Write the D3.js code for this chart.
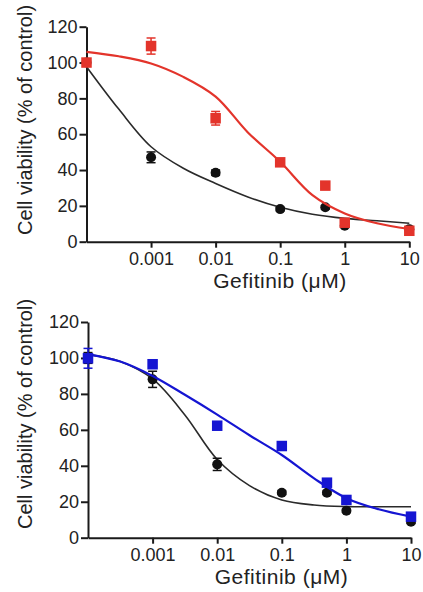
<!DOCTYPE html>
<html><head><meta charset="utf-8">
<script src="https://cdn.jsdelivr.net/npm/d3@7"></script>
<style>body{margin:0;background:#fff}svg{display:block}</style>
</head><body>
<script>
// ---- data ----
const doses = [0.0001, 0.001, 0.01, 0.1, 0.5, 1, 10];
const xTickValues = [0.001, 0.01, 0.1, 1, 10];
const xTickLabels = ["0.001", "0.01", "0.1", "1", "10"];
const yTickValues = [0, 20, 40, 60, 80, 100, 120];

// top panel
const topBlack = [100, 47.1, 38.5, 18.2, 19.2, 8.9, 7];
const topBlackErr = [1.5, 3, 1.5, 1, 1, 1, 1];
const topRed = [100, 109.2, 68.9, 44.3, 31.3, 10.6, 6.1];
const topRedErr = [2, 4.5, 3.8, 1.5, 1.5, 1.5, 1];
// fitted curves sampled at half-decades
const curveDoses = [0.0001, 0.000316, 0.001, 0.00316, 0.01, 0.0316, 0.1, 0.316, 1, 3.16, 10];
const topBlackFit = [97.7, 74, 53, 41, 32.5, 25, 19.2, 15.3, 13, 11.7, 10.3];
const topRedFit = [106, 103.5, 99.5, 92, 81, 61, 44.6, 26, 15.8, 10.3, 7.1];

// bottom panel
const botBlack = [100, 88.1, 40.8, 25, 25, 15, 8.9];
const botBlackErr = [3, 4.5, 3.4, 1, 1, 1, 1];
const botBlue = [99.8, 96.5, 62.3, 51, 30.6, 21, 11.7];
const botBlueErr = [5.5, 1.5, 1.5, 1.5, 1.5, 1.5, 1.5];
const botBlackFit = [102, 98, 88.3, 68.3, 43.5, 29, 21, 18.2, 17.3, 17.2, 17.2];
const botBlueFit = [102, 98, 90, 79.5, 68.5, 57, 46, 33, 22, 15.8, 11.7];

const W = 423, H = 592;
const svg = d3.select("body").append("svg").attr("width", W).attr("height", H);
const FONT = "'Liberation Sans', Arial, Helvetica, sans-serif";
const RED = "#e3342b", BLUE = "#1515d2", BLACK = "#111", CURVE_BLACK = "#2a2a2a";

function panel(cfg) {
  const g = svg.append("g");
  const x = d3.scaleLog().domain([0.0001, 10]).range([cfg.left, cfg.right]);
  const y = d3.scaleLinear().domain([0, 120]).range([cfg.bottom, cfg.top]);

  const xa = g.append("g").attr("transform", `translate(0,${cfg.bottom})`)
    .call(d3.axisBottom(x).tickValues(xTickValues).tickFormat((d, i) => xTickLabels[i]).tickSize(6).tickPadding(4.5).tickSizeOuter(0));
  const ya = g.append("g").attr("transform", `translate(${cfg.left},0)`)
    .call(d3.axisLeft(y).tickValues(yTickValues).tickSize(7).tickPadding(2).tickSizeOuter(0));
  [xa, ya].forEach(a => {
    a.select(".domain").attr("stroke", "#1a1a1a").attr("stroke-width", 2);
    a.selectAll(".tick line").attr("stroke", "#1a1a1a").attr("stroke-width", 2);
    a.selectAll(".tick text").attr("font-family", FONT).attr("font-size", 18).attr("fill", "#222");
  });

  g.append("text").attr("x", (cfg.left + cfg.right) / 2 + 32).attr("y", cfg.bottom + 46.3)
    .attr("text-anchor", "middle").attr("font-family", FONT).attr("font-size", 21)
    .attr("letter-spacing", 0.5).attr("fill", "#222")
    .text("Gefitinib (μM)");
  g.append("text").attr("transform", `translate(32,${cfg.labelY}) rotate(-90)`)
    .attr("text-anchor", "middle").attr("font-family", FONT).attr("font-size", 20).attr("fill", "#222")
    .text("Cell viability (% of control)");

  const line = d3.line().x((d, i) => x(curveDoses[i])).y(d => y(d)).curve(d3.curveCatmullRom.alpha(0.5));

  function series(vals, errs, fit, color, curveColor, shape, lw) {
    g.append("path").datum(fit).attr("d", line).attr("fill", "none")
      .attr("stroke", curveColor).attr("stroke-width", lw);
    const s = g.append("g");
    vals.forEach((v, i) => {
      const cx = x(doses[i]), cy = y(v);
      const e = errs[i];
      const y1 = y(v + e), y2 = y(v - e);
      s.append("line").attr("x1", cx).attr("x2", cx).attr("y1", y1).attr("y2", y2).attr("stroke", color).attr("stroke-width", 1.5);
      [y1, y2].forEach(yy => s.append("line").attr("x1", cx - 4.5).attr("x2", cx + 4.5).attr("y1", yy).attr("y2", yy).attr("stroke", color).attr("stroke-width", 1.5));
      if (shape === "circle") {
        s.append("circle").attr("cx", cx).attr("cy", cy).attr("r", 5).attr("fill", color);
      } else {
        s.append("rect").attr("x", cx - 5.25).attr("y", cy - 5.25).attr("width", 10.5).attr("height", 10.5).attr("fill", color);
      }
    });
  }
  cfg.series.forEach(sr => series(...sr));
}

panel({
  left: 86.5, right: 409.3, top: 26.7, bottom: 241.7, labelY: 120,
  series: [
    [topBlack, topBlackErr, topBlackFit, BLACK, CURVE_BLACK, "circle", 1.6],
    [topRed, topRedErr, topRedFit, RED, RED, "square", 2.2]
  ]
});
panel({
  left: 88, right: 411, top: 322, bottom: 537.7, labelY: 414,
  series: [
    [botBlack, botBlackErr, botBlackFit, BLACK, CURVE_BLACK, "circle", 1.6],
    [botBlue, botBlueErr, botBlueFit, BLUE, BLUE, "square", 2.2]
  ]
});
</script>
</body></html>
